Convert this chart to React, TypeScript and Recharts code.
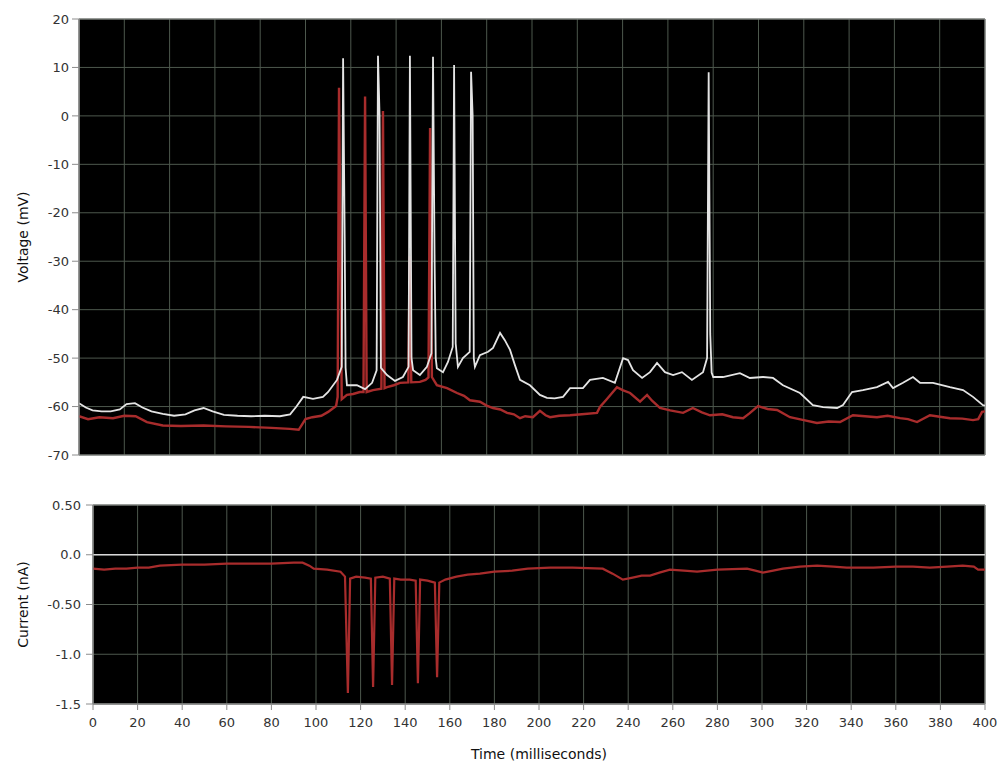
import {
  CartesianGrid,
  Line,
  LineChart,
  ReferenceArea,
  ReferenceLine,
  XAxis,
  YAxis,
} from 'recharts';

// time (ms), voltage (mV) — white recording
const whiteTrace: [number, number][] = [
  [0, -59.3], [3, -60.2], [6, -60.8], [10, -61.0], [14, -61.0], [18, -60.6], [21, -59.5],
  [24.7, -59.3], [28, -60.2], [32, -61.0], [37, -61.5], [42, -61.9], [47, -61.6], [51, -60.8],
  [55, -60.3], [59, -61.0], [64, -61.7], [70, -61.9], [76, -62.0], [82, -61.9], [88.7, -62.0],
  [93.2, -61.6], [96, -60.0], [99, -58.0], [103.3, -58.4], [107.7, -58.0], [110, -57.0],
  [113.9, -54.5], [116, -51.8], [116.6, 11.9], [117.3, -25], [117.7, -52], [118.3, -55.6],
  [122.7, -55.6], [126.3, -56.4], [129.4, -55.1], [131.4, -52.5], [132, 12.4], [132.7, 0],
  [133.3, -52], [136, -53.5], [139.5, -54.7], [143, -53.9], [145.5, -51.8], [146.1, 12.4],
  [146.8, -50], [147.5, -52.5], [150.5, -53.5], [153.6, -51.8], [155.6, -49], [156.3, 12.2],
  [157, -30], [157.5, -50], [158, -52.1], [160.7, -52.9], [162.9, -50.8], [165, -47.7],
  [165.6, 10.5], [166.3, -47], [167.3, -51.8], [169.5, -50], [172.5, -48.7], [173.1, 9.1],
  [173.8, 0], [174.3, -50], [174.8, -51.8], [177, -49.4], [180.6, -48.7], [182.8, -47.9],
  [185.9, -44.8], [188, -46.3], [190.3, -48.3], [192.5, -51.5], [194.7, -54.5], [199.1, -55.6],
  [203.5, -57.6], [206.6, -58.2], [210, -58.3], [213.7, -58.0], [216.8, -56.2], [222.5, -56.2],
  [225.6, -54.5], [231.3, -54.1], [236.6, -55.1], [240.2, -50.0], [242.4, -50.4], [244.6, -52.5],
  [248.6, -54.1], [252.1, -52.9], [255.2, -51.0], [258.7, -52.9], [262.3, -53.5], [266.2, -52.9],
  [270.6, -54.5], [275.5, -52.9], [277.3, -50], [278, 9], [278.7, -45], [279.3, -53], [280, -53.9],
  [284.3, -53.9], [291.8, -53.1], [296.2, -54.1], [302, -53.9], [306.4, -54.1], [310.8, -55.6],
  [318.3, -57.2], [324, -59.7], [328.5, -60.1], [334.7, -60.3], [337.3, -59.7], [341.3, -57.0],
  [346.1, -56.6], [352.3, -56.0], [357.2, -54.9], [359.4, -56.2], [363.8, -55.1], [368.2, -53.9],
  [371.3, -55.1], [377, -55.1], [384.5, -56.0], [390.3, -56.6], [394.7, -58.0], [399.1, -59.7],
  [400, -59.8],
];

// time (ms), voltage (mV) — red recording
const redTrace: [number, number][] = [
  [0, -62.0], [4, -62.6], [9, -62.2], [15, -62.4], [20, -61.9], [25, -62.0], [30, -63.2],
  [37, -63.9], [45, -64.0], [55, -63.9], [65, -64.1], [75, -64.2], [85, -64.4], [93, -64.6],
  [97, -64.8], [100, -62.6], [103, -62.2], [107, -61.9], [110, -61.1], [113.5, -59.9],
  [114.2, -58], [114.8, 5.8], [115.5, -30], [116, -58.5], [118.3, -57.6], [121, -57.4],
  [124, -57.0], [125.6, -57], [126.3, 4.0], [127, -57], [129.8, -56.6], [133.5, -56.3],
  [134.2, 1.0], [134.9, -56.2], [136, -56.0], [139, -55.6], [141.7, -55.1], [145.4, -55],
  [146, -29], [146.7, -55], [150.5, -54.9], [153, -54.5], [154.3, -54], [155, -2.5],
  [155.8, -53.9], [158, -55.6], [162.5, -56.2], [166.9, -57.2], [170, -57.8], [172.6, -58.7],
  [177, -59.0], [180, -59.8], [182.8, -60.3], [186, -60.6], [189, -61.3], [192, -61.6],
  [194.7, -62.4], [197, -62.0], [200.4, -62.2], [203.5, -60.9], [206, -61.8], [208, -62.2],
  [212, -61.9], [216.8, -61.8], [222, -61.6], [228.7, -61.3], [230, -60.1], [233, -58.5],
  [237.5, -56.0], [240, -56.6], [243.3, -57.2], [247.7, -59.0], [250.8, -57.6], [253, -58.8],
  [256.5, -60.3], [261, -60.8], [266.7, -61.3], [271, -60.3], [275, -61.2], [278.6, -61.8],
  [284, -61.6], [288.7, -62.2], [293.2, -62.4], [296, -61.4], [299.8, -59.9], [304, -60.5],
  [308.2, -60.7], [313.9, -62.2], [320, -62.8], [325.8, -63.4], [331, -63.1], [336, -63.2],
  [341.7, -61.8], [347, -62.0], [352.3, -62.2], [357, -61.9], [362.5, -62.4], [366, -62.6],
  [370, -63.2], [375.7, -61.8], [380, -62.1], [384.5, -62.4], [390, -62.5], [394.7, -62.8],
  [397, -62.6], [398.7, -61.1], [400, -61.0],
];

// time (ms), current (nA)
const currentTrace: [number, number][] = [
  [0, -0.14], [5, -0.15], [10, -0.14], [15, -0.14], [20, -0.13], [25, -0.13], [30, -0.11],
  [40, -0.10], [50, -0.10], [60, -0.09], [70, -0.09], [80, -0.09], [90, -0.08], [94, -0.08],
  [97, -0.11], [99, -0.14], [105, -0.15], [111, -0.17], [113, -0.22], [114.3, -1.39],
  [115.3, -0.24], [118, -0.22], [122, -0.23], [124.6, -0.24], [125.6, -1.33], [126.6, -0.23],
  [130, -0.22], [133.1, -0.24], [134.1, -1.31], [135.1, -0.24], [138, -0.25], [142, -0.25],
  [144.7, -0.26], [145.7, -1.29], [146.7, -0.25], [150, -0.26], [153.3, -0.28], [154.3, -1.23],
  [155.3, -0.28], [158, -0.25], [163, -0.22], [168, -0.20], [173.5, -0.19], [180, -0.17],
  [188, -0.16], [195, -0.14], [205, -0.13], [215, -0.13], [228.6, -0.14], [233, -0.19],
  [237.6, -0.25], [242, -0.23], [246, -0.21], [249.8, -0.21], [254, -0.18], [258.7, -0.15],
  [265, -0.16], [270.9, -0.17], [280, -0.15], [293.3, -0.14], [297, -0.16], [300.4, -0.18],
  [305, -0.16], [309.4, -0.14], [317, -0.12], [324.7, -0.11], [332, -0.12], [338, -0.13],
  [350, -0.13], [360, -0.12], [367.7, -0.12], [375.3, -0.13], [383, -0.12], [390, -0.11],
  [395, -0.12], [396.9, -0.15], [400, -0.15],
];

const timeTicks = [0, 20, 40, 60, 80, 100, 120, 140, 160, 180, 200, 220, 240, 260, 280, 300, 320, 340, 360, 380, 400];
const voltageTicks = [20, 10, 0, -10, -20, -30, -40, -50, -60, -70];
const currentTicks = [0.5, 0, -0.5, -1, -1.5];
const currentTickLabels: Record<string, string> = {
  '0.5': '0.50',
  '0': '0.0',
  '-0.5': '-0.50',
  '-1': '-1.0',
  '-1.5': '-1.5',
};

const toPoints = (trace: [number, number][]) => trace.map(([t, v]) => ({ t, v }));

const FONT = '"DejaVu Sans", Verdana, sans-serif';
const GRID = '#4d584d';
const BORDER = '#8c8c8c';
const TICK = { fontSize: 13, fill: '#333', fontFamily: FONT };

const sideLabel = (text: string) => (props: any) => {
  const vb = props.viewBox ?? { x: 0, y: 0, height: 0 };
  const cx = 23;
  const cy = vb.y + vb.height / 2;
  return (
    <text
      x={cx}
      y={cy}
      transform={`rotate(-90 ${cx} ${cy})`}
      textAnchor="middle"
      dominantBaseline="central"
      fontSize={14}
      fontFamily={FONT}
      fill="#111"
    >
      {text}
    </text>
  );
};

export default function App() {
  const white = toPoints(whiteTrace);
  const red = toPoints(redTrace);
  const current = toPoints(currentTrace);

  return (
    <div style={{ position: 'absolute', left: 0, top: 0, width: 1000, height: 763, background: '#fff' }}>
      <div style={{ position: 'absolute', left: 0, top: 0 }}>
        <LineChart width={1000} height={470} margin={{ top: 19, right: 15, bottom: 15, left: 0 }}>
          <CartesianGrid stroke={GRID} fill="#000" />
          <XAxis
            dataKey="t"
            type="number"
            domain={[0, 400]}
            ticks={timeTicks}
            interval={0}
            allowDataOverflow
            height={0}
            tick={() => <g />}
            tickLine={false}
            axisLine={false}
          />
          <YAxis
            type="number"
            domain={[-70, 20]}
            ticks={voltageTicks}
            interval={0}
            width={79}
            tick={TICK}
            tickSize={7}
            tickMargin={3}
            stroke={BORDER}
            label={{ content: sideLabel('Voltage (mV)') }}
          />
          <ReferenceArea x1={0} x2={400} y1={-70} y2={20} fill="#000" fillOpacity={0} stroke={BORDER} />
          <Line data={red} dataKey="v" type="linear" stroke="#a82c2c" strokeWidth={2.4} dot={false} isAnimationActive={false} />
          <Line data={white} dataKey="v" type="linear" stroke="#e4e4e4" strokeWidth={1.8} dot={false} isAnimationActive={false} />
        </LineChart>
      </div>
      <div style={{ position: 'absolute', left: 0, top: 470 }}>
        <LineChart width={1000} height={293} margin={{ top: 35, right: 15, bottom: 0, left: 0 }}>
          <CartesianGrid stroke={GRID} fill="#000" />
          <XAxis
            dataKey="t"
            type="number"
            domain={[0, 400]}
            ticks={timeTicks}
            interval={0}
            allowDataOverflow
            height={59}
            tick={TICK}
            tickSize={6}
            tickMargin={8}
            stroke={BORDER}
            label={{ value: 'Time (milliseconds)', position: 'insideBottom', offset: 4, fontSize: 14, fill: '#111', fontFamily: FONT }}
          />
          <YAxis
            type="number"
            domain={[-1.5, 0.5]}
            ticks={currentTicks}
            interval={0}
            width={93}
            tick={TICK}
            tickSize={7}
            tickMargin={5}
            tickFormatter={(v: number) => currentTickLabels[String(v)] ?? String(v)}
            stroke={BORDER}
            label={{ content: sideLabel('Current (nA)') }}
          />
          <ReferenceArea x1={0} x2={400} y1={-1.5} y2={0.5} fill="#000" fillOpacity={0} stroke={BORDER} />
          <ReferenceLine y={0} stroke="#d8d8d8" strokeWidth={1.5} />
          <Line data={current} dataKey="v" type="linear" stroke="#a82c2c" strokeWidth={2.2} dot={false} isAnimationActive={false} />
        </LineChart>
      </div>
    </div>
  );
}
